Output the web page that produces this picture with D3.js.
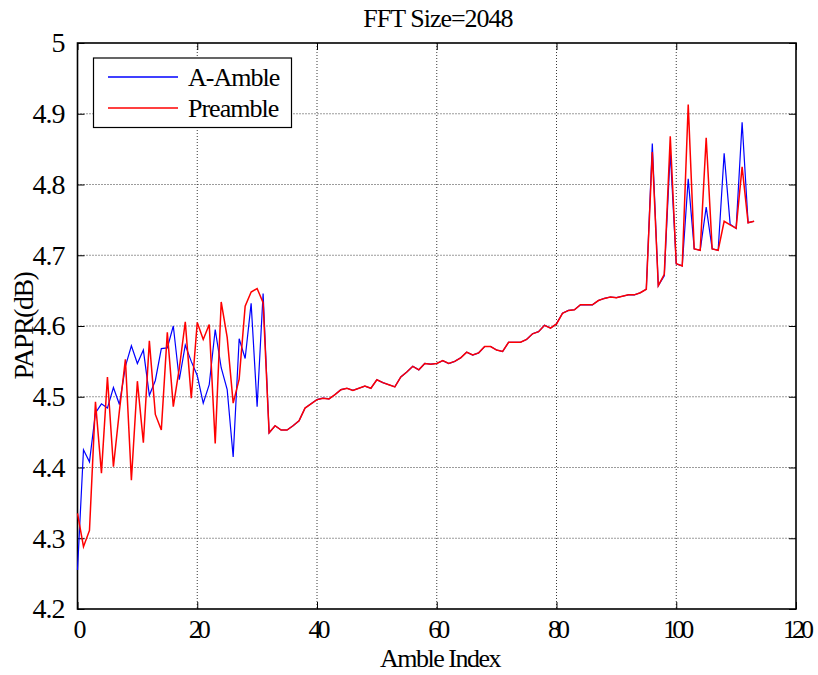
<!DOCTYPE html>
<html>
<head>
<meta charset="utf-8">
<script src="https://cdn.jsdelivr.net/npm/d3@7"></script>
<style>
  body { margin: 0; background: #fff; }
  svg { display: block; }
  svg text { font-family: "Liberation Serif", "Times New Roman", serif; fill: #000; }
</style>
</head>
<body>
<svg></svg>
<script>
// Valores: indice 0..31 difieren las dos series
var aAmbleStart = [4.255, 4.425, 4.408, 4.477, 4.490, 4.484, 4.513, 4.489, 4.543, 4.572,
    4.547, 4.566, 4.502, 4.523, 4.568, 4.569, 4.600, 4.524, 4.573, 4.550,
    4.530, 4.491, 4.517, 4.595, 4.541, 4.510, 4.415, 4.582, 4.554, 4.632,
    4.486, 4.646];
var preambleStart = [4.335, 4.288, 4.311, 4.493, 4.392, 4.528, 4.401, 4.480, 4.553, 4.382,
    4.522, 4.435, 4.579, 4.475, 4.453, 4.591, 4.486, 4.540, 4.606, 4.498,
    4.605, 4.581, 4.602, 4.434, 4.634, 4.584, 4.491, 4.525, 4.628, 4.648,
    4.653, 4.633];
// indice 32..95: las dos series coinciden
var sharedMiddle = [4.449, 4.459, 4.453, 4.453, 4.459, 4.466, 4.484, 4.490, 4.496, 4.498,
    4.497, 4.503, 4.510, 4.512, 4.509, 4.512, 4.515, 4.512, 4.524, 4.520,
    4.517, 4.514, 4.528, 4.535, 4.543, 4.538, 4.547, 4.546, 4.547, 4.551,
    4.547, 4.550, 4.555, 4.563, 4.559, 4.562, 4.571, 4.571, 4.566, 4.564,
    4.577, 4.577, 4.577, 4.581, 4.589, 4.592, 4.601, 4.597, 4.603, 4.618,
    4.622, 4.623, 4.630, 4.630, 4.630, 4.636, 4.639, 4.641, 4.640, 4.642,
    4.644, 4.644, 4.647, 4.652];
// indice 96..113
var aAmbleEnd = [4.858, 4.657, 4.671, 4.846, 4.688, 4.685, 4.808, 4.709, 4.707, 4.768,
    4.709, 4.707, 4.844, 4.744, 4.738, 4.888, 4.746, 4.748];
var preambleEnd = [4.846, 4.657, 4.673, 4.868, 4.688, 4.685, 4.913, 4.709, 4.707, 4.866,
    4.709, 4.707, 4.748, 4.743, 4.738, 4.825, 4.746, 4.748];

var seriesNames = ["A-Amble", "Preamble"];
var seriesColors = ["#0000ff", "#ff0000"];

var xTicks = [0, 20, 40, 60, 80, 100, 120];
var xTickLabels = ["0", "20", "40", "60", "80", "100", "120"];
var yTicks = [4.2, 4.3, 4.4, 4.5, 4.6, 4.7, 4.8, 4.9, 5];
var yTickLabels = ["4.2", "4.3", "4.4", "4.5", "4.6", "4.7", "4.8", "4.9", "5"];

var aAmble = aAmbleStart.concat(sharedMiddle, aAmbleEnd);
var preamble = preambleStart.concat(sharedMiddle, preambleEnd);

var svgWidth = 818, svgHeight = 675;
// ojo: "top" es de window, por eso otros nombres
var plotLeft = 77.5, plotRight = 796, plotTop = 43, plotBottom = 609;

var svg = d3.select("svg")
    .attr("width", svgWidth)
    .attr("height", svgHeight);

var xScale = d3.scaleLinear().domain([0, 120]).range([plotLeft, plotRight]);
var yScale = d3.scaleLinear().domain([4.2, 5]).range([plotBottom, plotTop]);

// rejilla punteada estilo matlab
var grid = svg.append("g");
grid.selectAll("line.gx")
    .data(xTicks.slice(1, -1))
    .enter().append("line")
    .attr("x1", function (d) { return xScale(d); })
    .attr("x2", function (d) { return xScale(d); })
    .attr("y1", plotTop).attr("y2", plotBottom)
    .attr("stroke", "#222").attr("stroke-width", 0.9)
    .attr("stroke-dasharray", "1,2");
grid.selectAll("line.gy")
    .data(yTicks.slice(1, -1))
    .enter().append("line")
    .attr("y1", function (d) { return yScale(d); })
    .attr("y2", function (d) { return yScale(d); })
    .attr("x1", plotLeft).attr("x2", plotRight)
    .attr("stroke", "#222").attr("stroke-width", 0.9)
    .attr("stroke-dasharray", "1,2");

// ejes con ticks hacia adentro
var tickLen = 7;
svg.append("g")
    .attr("transform", "translate(0," + plotBottom + ")")
    .call(d3.axisBottom(xScale).tickValues(xTicks)
        .tickFormat(function (d, i) { return xTickLabels[i]; })
        .tickSizeInner(-tickLen).tickSizeOuter(0).tickPadding(11))
    .call(function (g) {
        g.select(".domain").remove();
        g.attr("font-family", null);
        g.selectAll("text").attr("font-size", 26).attr("letter-spacing", -4);
    });
svg.append("g")
    .attr("transform", "translate(" + plotLeft + ",0)")
    .call(d3.axisLeft(yScale).tickValues(yTicks)
        .tickFormat(function (d, i) { return yTickLabels[i]; })
        .tickSizeInner(-tickLen).tickSizeOuter(0).tickPadding(13))
    .call(function (g) {
        g.select(".domain").remove();
        g.attr("font-family", null);
        g.selectAll("text").attr("font-size", 28).attr("letter-spacing", -1);
    });
svg.append("g")
    .attr("transform", "translate(0," + plotTop + ")")
    .call(d3.axisTop(xScale).tickValues(xTicks).tickFormat("")
        .tickSizeInner(-tickLen).tickSizeOuter(0))
    .call(function (g) { g.select(".domain").remove(); });
svg.append("g")
    .attr("transform", "translate(" + plotRight + ",0)")
    .call(d3.axisRight(yScale).tickValues(yTicks).tickFormat("")
        .tickSizeInner(-tickLen).tickSizeOuter(0))
    .call(function (g) { g.select(".domain").remove(); });

// marco
svg.append("rect")
    .attr("x", plotLeft).attr("y", plotTop)
    .attr("width", plotRight - plotLeft).attr("height", plotBottom - plotTop)
    .attr("fill", "none").attr("stroke", "#000").attr("stroke-width", 1.6);

// lineas
var line = d3.line()
    .x(function (d, i) { return xScale(i); })
    .y(function (d) { return yScale(d); });

svg.append("path")
    .datum(aAmble)
    .attr("d", line)
    .attr("fill", "none")
    .attr("stroke", seriesColors[0])
    .attr("stroke-width", 1.2);
svg.append("path")
    .datum(preamble)
    .attr("d", line)
    .attr("fill", "none")
    .attr("stroke", seriesColors[1])
    .attr("stroke-width", 1.5);

// textos
svg.append("text")
    .attr("x", 438).attr("y", 27)
    .attr("text-anchor", "middle")
    .attr("font-size", 26).attr("letter-spacing", -1)
    .text("FFT Size=2048");
svg.append("text")
    .attr("x", 440).attr("y", 667)
    .attr("text-anchor", "middle")
    .attr("font-size", 26).attr("letter-spacing", -1.5)
    .text("Amble Index");
svg.append("text")
    .attr("transform", "translate(33,326) rotate(-90)")
    .attr("text-anchor", "middle")
    .attr("font-size", 28).attr("letter-spacing", -1.5)
    .text("PAPR(dB)");

// leyenda
var legend = svg.append("g");
legend.append("rect")
    .attr("x", 93.5).attr("y", 58)
    .attr("width", 198).attr("height", 69.5)
    .attr("fill", "#fff").attr("stroke", "#000").attr("stroke-width", 1.2);
legend.selectAll("line.item")
    .data(seriesNames)
    .enter().append("line")
    .attr("x1", 108).attr("x2", 178)
    .attr("y1", function (d, i) { return 77 + i * 31; })
    .attr("y2", function (d, i) { return 77 + i * 31; })
    .attr("stroke", function (d, i) { return seriesColors[i]; })
    .attr("stroke-width", 1.3);
legend.selectAll("text.item")
    .data(seriesNames)
    .enter().append("text")
    .attr("x", 188)
    .attr("y", function (d, i) { return 86 + i * 31; })
    .attr("font-size", 26).attr("letter-spacing", -1)
    .text(function (d) { return d; });
</script>
</body>
</html>
